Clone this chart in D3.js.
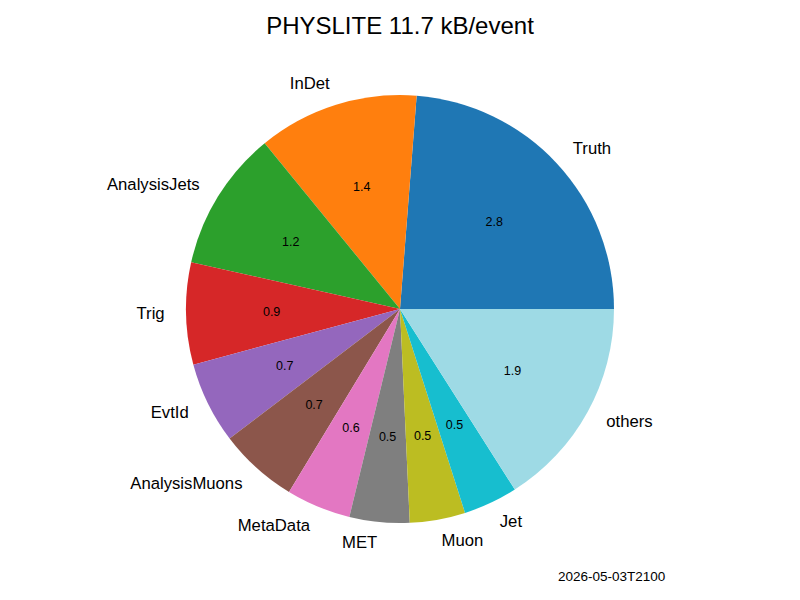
<!DOCTYPE html>
<html>
<head>
<meta charset="utf-8">
<script src="https://cdn.jsdelivr.net/npm/d3@7"></script>
<style>
  html, body { margin: 0; padding: 0; background: #fff; }
  text { font-family: "Liberation Sans", Arial, Helvetica, sans-serif; fill: #000; }
</style>
</head>
<body>
<svg id="chart" width="800" height="600"></svg>
<script>
const categories = ["Truth", "InDet", "AnalysisJets", "Trig", "EvtId", "AnalysisMuons", "MetaData", "MET", "Muon", "Jet", "others"];
const sizes = [2.78, 1.42, 1.24, 0.90, 0.72, 0.70, 0.57, 0.53, 0.49, 0.48, 1.87];
const colors = ["#1f77b4", "#ff7f0e", "#2ca02c", "#d62728", "#9467bd", "#8c564b", "#e377c2", "#7f7f7f", "#bcbd22", "#17becf", "#9edae5"];
const title = "PHYSLITE 11.7 kB/event";
const stamp = "2026-05-03T2100";

const W = 800, H = 600;
const cx = 400, cy = 309, R = 214;
const svg = d3.select("#chart");

const data = categories.map((c, i) => ({ name: c, value: sizes[i], color: colors[i] }));
const pie = d3.pie().value(d => d.value).sort(null)
  .startAngle(Math.PI / 2).endAngle(Math.PI / 2 - 2 * Math.PI);
const arcs = pie(data);

const arc = d3.arc().innerRadius(0).outerRadius(R);
const labelArc = d3.arc().innerRadius(R * 1.1).outerRadius(R * 1.1);
const pctArc = d3.arc().innerRadius(R * 0.6).outerRadius(R * 0.6);

const g = svg.append("g").attr("transform", `translate(${cx},${cy})`);

g.selectAll("path.slice").data(arcs).enter().append("path")
  .attr("class", "slice")
  .attr("d", arc)
  .attr("fill", d => d.data.color);

g.selectAll("text.lbl").data(arcs).enter().append("text")
  .attr("class", "lbl")
  .each(function(d) {
    const [x, y] = labelArc.centroid(d);
    d3.select(this).attr("x", x).attr("y", y)
      .attr("dy", "0.29em")
      .attr("text-anchor", x > 0 ? "start" : "end");
  })
  .style("font-size", "16.7px")
  .text(d => d.data.name);

g.selectAll("text.pct").data(arcs).enter().append("text")
  .attr("class", "pct")
  .each(function(d) {
    const [x, y] = pctArc.centroid(d);
    d3.select(this).attr("x", x).attr("y", y).attr("dy", "0.33em").attr("text-anchor", "middle");
  })
  .style("font-size", "12.5px")
  .text(d => d.data.value.toFixed(1));

svg.append("text")
  .attr("x", 400).attr("y", 34)
  .attr("text-anchor", "middle")
  .style("font-size", "24px")
  .text(title);

svg.append("text")
  .attr("x", 558).attr("y", 581)
  .attr("text-anchor", "start")
  .style("font-size", "13.5px")
  .text(stamp);
</script>
</body>
</html>
